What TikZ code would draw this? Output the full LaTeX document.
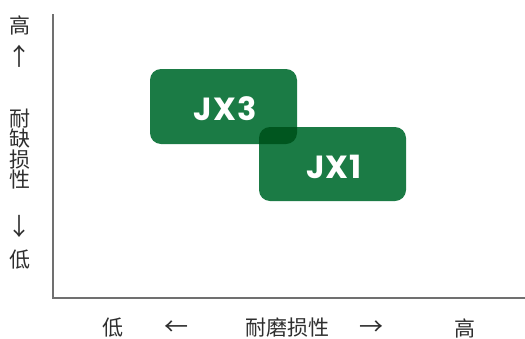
\documentclass[tikz,border=0pt]{standalone}
\usepackage{fontspec}
\newfontfamily\cjk{Noto Sans CJK SC}[FakeStretch=1]
\newfontfamily\jxfont{Poppins}[BoldFont={* Bold}, LetterSpace=4]
\definecolor{boxgreen}{HTML}{1B7B45}
\definecolor{overgreen}{HTML}{00561F}
\definecolor{labelgray}{HTML}{2E2E2E}
\definecolor{axisgray}{HTML}{707070}
\begin{document}
\begin{tikzpicture}[x=1pt,y=-1pt,
  lbl/.style={font=\cjk\fontsize{21}{20.5}\selectfont, text=labelgray, inner sep=0pt},
  arr/.style={font=\cjk\fontsize{24}{24}\selectfont, text=labelgray, inner sep=0pt},
  jx/.style={font=\jxfont\bfseries\fontsize{32}{34}\selectfont, text=white, inner sep=0pt},
  axisline/.style={draw=axisgray, line width=1.4pt}]
\useasboundingbox (0,0) rectangle (525,338);
% axes
\coordinate (top) at (53,14);
\coordinate (origin) at (53,298);
\coordinate (right) at (525,298);
\draw[axisline] (top) -- (origin) -- (right);
% boxes
\path[fill=boxgreen, rounded corners=11pt] (150,69) rectangle (297,144);
\path[fill=boxgreen, rounded corners=11pt] (259,127) rectangle (406,201);
\begin{scope}
\clip[rounded corners=11pt] (150,69) rectangle (297,144);
\path[fill=overgreen, rounded corners=11pt] (259,127) rectangle (406,201);
\end{scope}
\node[jx] (jx3) at (225,109) {JX3};
\node[jx] (jx1) at (334,167) {JX1};
% left labels
\node[lbl] (yhi) at (20,25) {高};
\node[arr] (yup) at (20,56) {↑};
\node[lbl, align=center] (ylab) at (20,149) {耐\\缺\\损\\性};
\node[arr] (ydown) at (20,226) {↓};
\node[lbl] (ylo) at (20,260) {低};
% bottom labels
\node[lbl] (xlo) at (113,328) {低};
\node[arr] (xleft) at (176,328) {←};
\node[lbl] (xlab) at (287,328) {耐磨损性};
\node[arr] (xright) at (371,328) {→};
\node[lbl] (xhi) at (465,328) {高};
\end{tikzpicture}
\end{document}
